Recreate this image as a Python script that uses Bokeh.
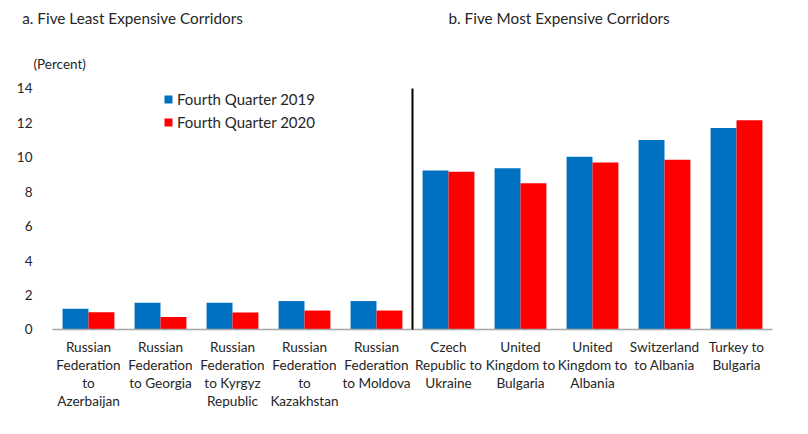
from bokeh.plotting import figure
from bokeh.models import (ColumnDataSource, Range1d, FixedTicker, Label, Legend,
                          LegendItem)
from bokeh.embed import file_html
from bokeh.resources import INLINE

corridors = [
    "Russian\nFederation\nto\nAzerbaijan",
    "Russian\nFederation\nto Georgia",
    "Russian\nFederation\nto Kyrgyz\nRepublic",
    "Russian\nFederation\nto\nKazakhstan",
    "Russian\nFederation\nto Moldova",
    "Czech\nRepublic to\nUkraine",
    "United\nKingdom to\nBulgaria",
    "United\nKingdom to\nAlbania",
    "Switzerland\nto Albania",
    "Turkey to\nBulgaria",
]
q4_2019 = [1.2, 1.56, 1.56, 1.65, 1.65, 9.24, 9.37, 10.03, 11.0, 11.71]
q4_2020 = [1.0, 0.72, 0.99, 1.1, 1.1, 9.16, 8.5, 9.7, 9.86, 12.15]
y_ticks = [0, 2, 4, 6, 8, 10, 12, 14]
series_names = ["Fourth Quarter 2019", "Fourth Quarter 2020"]
panel_titles = ["a. Five Least Expensive Corridors", "b. Five Most Expensive Corridors"]

FONT = "Lato"
TXT = "#262626"
BLUE = "#0070C0"
RED = "#FF0000"
n = len(corridors)

centers = [i + 0.5 for i in range(n)]
src = ColumnDataSource(dict(
    xb=[c - 0.18 for c in centers],
    xr=[c + 0.18 for c in centers],
    b=q4_2019,
    r=q4_2020,
))

p = figure(width=808, height=434, output_backend="svg", toolbar_location=None,
           x_range=Range1d(-0.722, 10.5), y_range=Range1d(-6.1, 19.11),
           min_border_left=0, min_border_right=0, min_border_top=0,
           min_border_bottom=0)
p.outline_line_color = None
p.grid.visible = False

rb = p.vbar(x="xb", top="b", width=0.36, source=src, fill_color=BLUE, line_color=None)
rr = p.vbar(x="xr", top="r", width=0.36, source=src, fill_color=RED, line_color=None)

# baseline and divider between the two panels
p.segment(x0=[0], y0=[0], x1=[n], y1=[0], line_color="#a6a6a6", line_width=1.5)
p.segment(x0=[n / 2], y0=[0], x1=[n / 2], y1=[y_ticks[-1]], line_color="black", line_width=2)

# x axis (category labels), drawn at y = 0
xa = p.xaxis[0]
xa.fixed_location = 0
xa.ticker = FixedTicker(ticks=centers)
xa.major_label_overrides = {c: lab for c, lab in zip(centers, corridors)}
xa.major_tick_line_color = None
xa.minor_tick_line_color = None
xa.axis_line_color = None
xa.major_label_text_font = FONT
xa.major_label_text_font_size = "13.6px"
xa.major_label_text_color = TXT
xa.major_label_text_line_height = 1.12
xa.major_label_standoff = 4

# y axis, drawn at the left edge of the bars
ya = p.yaxis[0]
ya.fixed_location = 0
ya.ticker = FixedTicker(ticks=y_ticks)
ya.axis_line_color = None
ya.major_tick_line_color = None
ya.minor_tick_line_color = None
ya.major_label_text_font = FONT
ya.major_label_text_font_size = "13.5px"
ya.major_label_text_color = TXT
ya.major_label_standoff = 14

# titles and unit label
p.add_layout(Label(x=-0.42, y=18.1, text=panel_titles[0], text_font=FONT,
                   text_font_size="15.3px", text_color=TXT, text_baseline="middle"))
p.add_layout(Label(x=5.5, y=18.1, text=panel_titles[1], text_font=FONT,
                   text_font_size="15.3px", text_color=TXT, text_baseline="middle"))
p.add_layout(Label(x=-0.264, y=15.4, text="(Percent)", text_font=FONT,
                   text_font_size="13.5px", text_color=TXT, text_baseline="middle"))

legend = Legend(items=[LegendItem(label=series_names[0], renderers=[rb]),
                       LegendItem(label=series_names[1], renderers=[rr])],
                location=(163, 302), orientation="vertical",
                label_text_font=FONT, label_text_font_size="15px", label_text_color=TXT,
                glyph_width=10, glyph_height=10, label_height=20, spacing=3,
                padding=0, margin=0, label_standoff=4,
                border_line_color=None, background_fill_alpha=0)
p.add_layout(legend)

open("out.html", "w").write(file_html(p, INLINE))
